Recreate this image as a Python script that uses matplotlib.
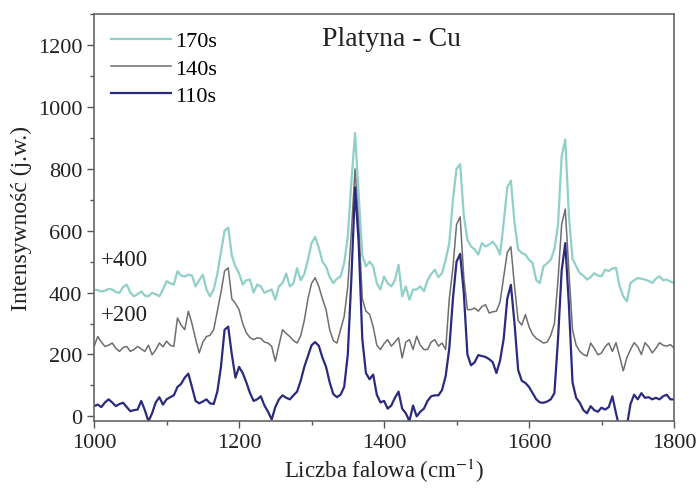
import numpy as np
import matplotlib
matplotlib.use("Agg")
import matplotlib.pyplot as plt
from matplotlib.ticker import MultipleLocator

plt.rcParams['font.family'] = ['Liberation Serif', 'DejaVu Serif']
plt.rcParams['mathtext.fontset'] = 'stix'

wavenumber = np.arange(1000, 1801, 5)

labels = ["170s", "140s", "110s"]
offsets = [400, 200, 0]
colors = ["#8fd0c8", "#6e6e6e", "#2b2a7e"]
widths = [1.6, 1.1, 1.6]

# plotted values (offset included)
s170 = [410, 408, 404, 406, 412, 410, 402, 399, 418, 426, 400, 388, 395, 404, 390, 388, 399, 395, 388, 410,
        437, 430, 426, 469, 455, 452, 458, 455, 420, 440, 458, 410, 388, 410, 460, 530, 600, 610, 520, 484,
        462, 426, 440, 442, 400, 426, 420, 399, 405, 410, 377, 420, 431, 462, 420, 430, 479, 440, 460, 506,
        560, 580, 545, 500, 484, 450, 431, 445, 452, 495, 580, 760, 916, 720, 520, 485, 500, 485, 430, 410,
        452, 430, 420, 440, 490, 388, 420, 377, 410, 410, 420, 404, 440, 460, 474, 450, 463, 506, 560, 700,
        800, 815, 650, 571, 549, 540, 523, 560, 549, 555, 565, 549, 523, 625, 740, 762, 625, 540, 528, 523,
        506, 495, 440, 431, 485, 495, 506, 540, 620, 840, 895, 650, 510, 485, 463, 455, 442, 450, 463, 455,
        453, 474, 470, 478, 480, 420, 388, 372, 431, 440, 447, 445, 442, 438, 431, 445, 453, 440, 442, 436,
        431]
s140 = [226, 258, 240, 226, 230, 237, 220, 210, 222, 226, 210, 216, 226, 218, 210, 230, 199, 215, 237, 225,
        243, 230, 226, 318, 295, 280, 340, 300, 250, 205, 240, 258, 262, 280, 340, 400, 470, 480, 380, 365,
        345, 300, 270, 255, 248, 254, 252, 240, 237, 226, 178, 230, 280, 268, 258, 245, 237, 260, 310, 380,
        430, 448, 420, 380, 345, 280, 245, 237, 280, 323, 420, 600, 800, 620, 380, 340, 330, 290, 230, 216,
        235, 248, 227, 240, 254, 189, 240, 248, 216, 259, 230, 216, 216, 240, 248, 227, 237, 216, 380, 480,
        620, 645, 450, 345, 345, 350, 340, 355, 361, 334, 338, 340, 370, 450, 530, 548, 420, 310, 295, 329,
        290, 265, 252, 245, 237, 240, 262, 300, 440, 620, 670, 470, 280, 230, 210, 200, 195, 237, 220, 199,
        205, 225, 237, 210, 238, 194, 147, 190, 216, 238, 225, 200, 238, 225, 205, 220, 238, 230, 227, 232,
        221]
s110 = [33, 38, 30, 45, 55, 45, 33, 40, 44, 30, 17, 20, 22, 50, 20, -16, 10, 45, 62, 38,
        55, 62, 68, 95, 105, 125, 138, 95, 50, 42, 48, 55, 42, 40, 80, 160, 280, 290, 200, 125,
        160, 140, 110, 76, 50, 55, 65, 35, 15, -10, 30, 55, 68, 60, 55, 68, 80, 115, 160, 195,
        230, 240, 228, 190, 160, 110, 72, 62, 70, 95, 200, 450, 740, 560, 250, 140, 120, 135, 70, 45,
        50, 25, 35, 60, 80, 25, 10, -15, 35, 0, 15, 25, 50, 65, 68, 68, 85, 130, 220, 380,
        500, 525, 400, 200, 165, 175, 198, 195, 192, 185, 175, 140, 180, 250, 380, 425, 300, 150, 115, 108,
        95, 75, 55, 45, 44, 48, 55, 75, 250, 470, 560, 360, 110, 60, 44, 20, 10, 33, 20, 15,
        28, 22, 30, 65, 10, -40, -40, -30, 40, 70, 55, 75, 60, 62, 55, 60, 55, 65, 70, 55,
        55]

series = [s170, s140, s110]

fig = plt.figure(figsize=(6.97, 4.89), dpi=100)
ax = fig.add_axes([0.135, 0.137, 0.832, 0.832])

for lab, ys, c, lw in zip(labels, series, colors, widths):
    ax.plot(wavenumber, ys, color=c, lw=lw, label=lab)

ax.set_xlim(1000, 1800)
ax.set_ylim(-15, 1300)
ax.xaxis.set_major_locator(MultipleLocator(200))
ax.xaxis.set_minor_locator(MultipleLocator(100))
ax.yaxis.set_major_locator(MultipleLocator(200))
ax.yaxis.set_minor_locator(MultipleLocator(100))
ax.tick_params(which='major', direction='out', length=5, width=1, labelsize=16, color='#555555',
               labelcolor='#222222')
ax.tick_params(which='minor', direction='out', length=3, width=1, color='#555555')
for sp in ax.spines.values():
    sp.set_color('#666666')
    sp.set_linewidth(1.2)

ax.set_xlabel("Liczba falowa (cm$^{-1}$)", fontsize=16.5, labelpad=3, color='#222222')
ax.set_ylabel("Intensywność (j.w.)", fontsize=17, labelpad=4, color='#222222')

ax.text(1410, 1222, "Platyna - Cu", fontsize=20, ha='center', va='center', color='#222222')
ax.text(1010, 506, "+400", fontsize=16.5, ha='left', va='center', color='#222222')
ax.text(1010, 329, "+200", fontsize=16.5, ha='left', va='center', color='#222222')

ax.legend(loc='upper left', frameon=False, fontsize=16, handlelength=2.7, handletextpad=0.2,
          labelspacing=0.3, borderaxespad=0.55, borderpad=0.2)

fig.savefig("out.png", dpi=100)
